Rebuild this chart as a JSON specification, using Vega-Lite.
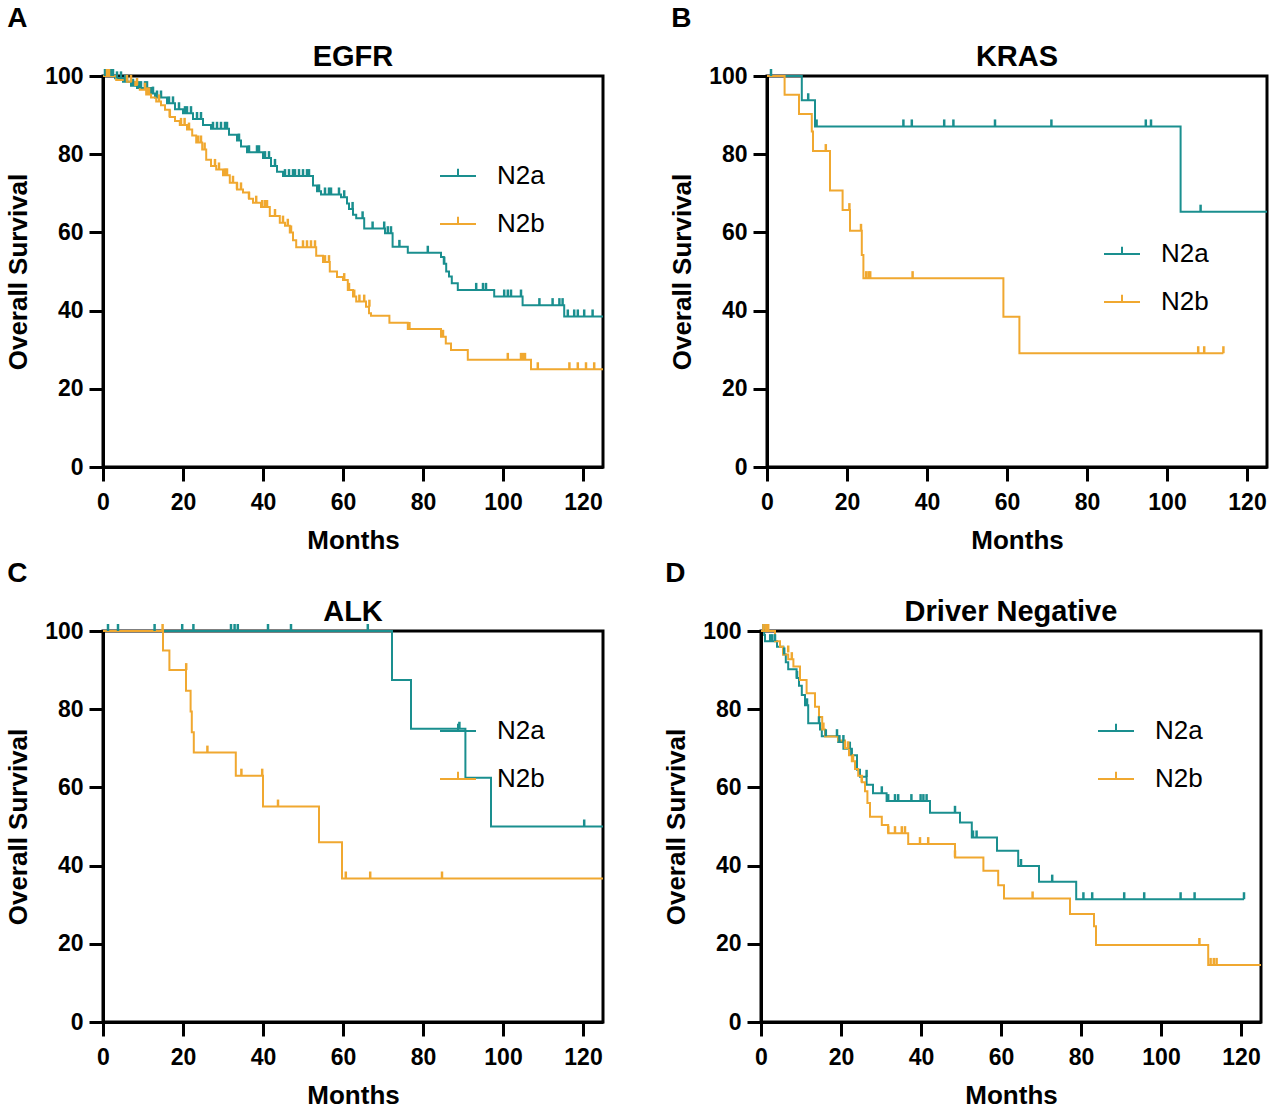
{
"$schema": "https://vega.github.io/schema/vega-lite/v6.json",
"padding": {"left": 4, "top": 4, "right": 0, "bottom": 0},
"background": "white",
"datasets": {
"A_l": [
{"g":"N2a","m":0,"s":100},{"g":"N2a","m":3,"s":99.4},{"g":"N2a","m":5,"s":98.5},{"g":"N2a","m":7,"s":97.5},{"g":"N2a","m":8.5,"s":96.9},{"g":"N2a","m":12,"s":95.5},{"g":"N2a","m":13,"s":94.5},{"g":"N2a","m":16,"s":93},{"g":"N2a","m":18,"s":91.5},{"g":"N2a","m":20,"s":90.5},{"g":"N2a","m":22.5,"s":89},{"g":"N2a","m":25,"s":87.5},{"g":"N2a","m":27,"s":86.5},{"g":"N2a","m":31.5,"s":85},{"g":"N2a","m":33.5,"s":83.5},{"g":"N2a","m":34.5,"s":82},{"g":"N2a","m":36,"s":80.5},{"g":"N2a","m":40,"s":79},{"g":"N2a","m":42,"s":77},{"g":"N2a","m":43.5,"s":75.5},{"g":"N2a","m":45,"s":74.4},{"g":"N2a","m":52.5,"s":72},{"g":"N2a","m":53.5,"s":70.5},{"g":"N2a","m":54.5,"s":69.7},{"g":"N2a","m":59.5,"s":69},{"g":"N2a","m":61,"s":67.4},{"g":"N2a","m":61.5,"s":66},{"g":"N2a","m":62.5,"s":64.5},{"g":"N2a","m":63.3,"s":63.6},{"g":"N2a","m":65.3,"s":61},{"g":"N2a","m":70.5,"s":59.8},{"g":"N2a","m":72.4,"s":56.3},{"g":"N2a","m":76.2,"s":54.8},{"g":"N2a","m":84.5,"s":53.7},{"g":"N2a","m":85.2,"s":52},{"g":"N2a","m":85.8,"s":50},{"g":"N2a","m":86.5,"s":48.7},{"g":"N2a","m":87.2,"s":47},{"g":"N2a","m":88.7,"s":45.3},{"g":"N2a","m":97.8,"s":43.6},{"g":"N2a","m":104.9,"s":41.4},{"g":"N2a","m":115.3,"s":38.5},{"g":"N2a","m":125,"s":38.5},
{"g":"N2b","m":0,"s":100},{"g":"N2b","m":3.3,"s":99},{"g":"N2b","m":6,"s":98.5},{"g":"N2b","m":8,"s":97.7},{"g":"N2b","m":9.2,"s":96.5},{"g":"N2b","m":10.8,"s":95.3},{"g":"N2b","m":12,"s":94.5},{"g":"N2b","m":13.3,"s":93.5},{"g":"N2b","m":14.5,"s":92.5},{"g":"N2b","m":15.5,"s":91.4},{"g":"N2b","m":16.7,"s":89.5},{"g":"N2b","m":18,"s":88.5},{"g":"N2b","m":19.2,"s":87.5},{"g":"N2b","m":21,"s":86.3},{"g":"N2b","m":22.3,"s":84.8},{"g":"N2b","m":23.3,"s":83},{"g":"N2b","m":24.8,"s":81.2},{"g":"N2b","m":25.8,"s":78.6},{"g":"N2b","m":27,"s":77},{"g":"N2b","m":28.3,"s":76.1},{"g":"N2b","m":30,"s":74.6},{"g":"N2b","m":31.7,"s":72.7},{"g":"N2b","m":33.5,"s":71},{"g":"N2b","m":35,"s":70.2},{"g":"N2b","m":36.5,"s":68.6},{"g":"N2b","m":37.5,"s":67.6},{"g":"N2b","m":39.5,"s":66.5},{"g":"N2b","m":41.7,"s":64.2},{"g":"N2b","m":44.2,"s":62.5},{"g":"N2b","m":45.5,"s":61.7},{"g":"N2b","m":46.7,"s":60},{"g":"N2b","m":47.5,"s":58},{"g":"N2b","m":48.3,"s":56.2},{"g":"N2b","m":53.3,"s":54},{"g":"N2b","m":55,"s":52.4},{"g":"N2b","m":56.7,"s":50},{"g":"N2b","m":58.5,"s":48.6},{"g":"N2b","m":60,"s":47.8},{"g":"N2b","m":61.2,"s":45.3},{"g":"N2b","m":62.5,"s":43.6},{"g":"N2b","m":63.3,"s":42.3},{"g":"N2b","m":65.75,"s":41},{"g":"N2b","m":66.5,"s":39.3},{"g":"N2b","m":67,"s":38.7},{"g":"N2b","m":71.6,"s":36.9},{"g":"N2b","m":76.2,"s":35.3},{"g":"N2b","m":84.5,"s":33.3},{"g":"N2b","m":85.7,"s":31.6},{"g":"N2b","m":87,"s":29.9},{"g":"N2b","m":91.2,"s":27.4},{"g":"N2b","m":107,"s":25},{"g":"N2b","m":125,"s":25}
],
"A_c": [
{"g":"N2a","m":0.5,"s":100},{"g":"N2a","m":1,"s":100},{"g":"N2a","m":1.5,"s":100},{"g":"N2a","m":2,"s":100},{"g":"N2a","m":2.5,"s":100},{"g":"N2a","m":3.5,"s":99.4},{"g":"N2a","m":4.5,"s":99.4},{"g":"N2a","m":5.5,"s":98.5},{"g":"N2a","m":6,"s":98.5},{"g":"N2a","m":7.5,"s":97.5},{"g":"N2a","m":9,"s":96.9},{"g":"N2a","m":9.5,"s":96.9},{"g":"N2a","m":10.5,"s":96.9},{"g":"N2a","m":11,"s":96.9},{"g":"N2a","m":12.5,"s":95.5},{"g":"N2a","m":13.5,"s":94.5},{"g":"N2a","m":14.5,"s":94.5},{"g":"N2a","m":16.5,"s":93},{"g":"N2a","m":17.5,"s":93},{"g":"N2a","m":19,"s":91.5},{"g":"N2a","m":20.5,"s":90.5},{"g":"N2a","m":21,"s":90.5},{"g":"N2a","m":22,"s":90.5},{"g":"N2a","m":23.5,"s":89},{"g":"N2a","m":24.5,"s":89},{"g":"N2a","m":27.5,"s":86.5},{"g":"N2a","m":28.5,"s":86.5},{"g":"N2a","m":29.5,"s":86.5},{"g":"N2a","m":30.5,"s":86.5},{"g":"N2a","m":31,"s":86.5},{"g":"N2a","m":34,"s":83.5},{"g":"N2a","m":36.5,"s":80.5},{"g":"N2a","m":38.5,"s":80.5},{"g":"N2a","m":39,"s":80.5},{"g":"N2a","m":40.5,"s":79},{"g":"N2a","m":41.5,"s":79},{"g":"N2a","m":43,"s":77},{"g":"N2a","m":45.5,"s":74.4},{"g":"N2a","m":46.5,"s":74.4},{"g":"N2a","m":47.5,"s":74.4},{"g":"N2a","m":48,"s":74.4},{"g":"N2a","m":49,"s":74.4},{"g":"N2a","m":50,"s":74.4},{"g":"N2a","m":51,"s":74.4},{"g":"N2a","m":51.5,"s":74.4},{"g":"N2a","m":54,"s":70.5},{"g":"N2a","m":55.5,"s":69.7},{"g":"N2a","m":56.5,"s":69.7},{"g":"N2a","m":57,"s":69.7},{"g":"N2a","m":59,"s":69.7},{"g":"N2a","m":60.3,"s":69},{"g":"N2a","m":62.4,"s":66},{"g":"N2a","m":64.9,"s":63.6},{"g":"N2a","m":67.4,"s":61},{"g":"N2a","m":70.3,"s":61},{"g":"N2a","m":71.2,"s":59.8},{"g":"N2a","m":72,"s":59.8},{"g":"N2a","m":74.1,"s":56.3},{"g":"N2a","m":81.2,"s":54.8},{"g":"N2a","m":85.3,"s":52},{"g":"N2a","m":93.3,"s":45.3},{"g":"N2a","m":95,"s":45.3},{"g":"N2a","m":95.75,"s":45.3},{"g":"N2a","m":100.3,"s":43.6},{"g":"N2a","m":101.2,"s":43.6},{"g":"N2a","m":102,"s":43.6},{"g":"N2a","m":104.5,"s":43.6},{"g":"N2a","m":109.1,"s":41.4},{"g":"N2a","m":112.4,"s":41.4},{"g":"N2a","m":114.1,"s":41.4},{"g":"N2a","m":114.9,"s":41.4},{"g":"N2a","m":116.2,"s":38.5},{"g":"N2a","m":117.8,"s":38.5},{"g":"N2a","m":118.7,"s":38.5},{"g":"N2a","m":120.3,"s":38.5},{"g":"N2a","m":122.4,"s":38.5},
{"g":"N2b","m":1,"s":100},{"g":"N2b","m":1.5,"s":100},{"g":"N2b","m":6,"s":98.5},{"g":"N2b","m":7,"s":98.5},{"g":"N2b","m":8.5,"s":97.7},{"g":"N2b","m":10.5,"s":96.5},{"g":"N2b","m":11,"s":95.3},{"g":"N2b","m":11.5,"s":95.3},{"g":"N2b","m":14,"s":93.5},{"g":"N2b","m":16.7,"s":89.5},{"g":"N2b","m":19.5,"s":87.5},{"g":"N2b","m":20.4,"s":87.5},{"g":"N2b","m":21.5,"s":86.3},{"g":"N2b","m":23.8,"s":83},{"g":"N2b","m":24.5,"s":83},{"g":"N2b","m":25.4,"s":81.2},{"g":"N2b","m":28,"s":77},{"g":"N2b","m":29,"s":76.1},{"g":"N2b","m":30.5,"s":74.6},{"g":"N2b","m":31,"s":74.6},{"g":"N2b","m":32.5,"s":72.7},{"g":"N2b","m":33.5,"s":71},{"g":"N2b","m":34.5,"s":71},{"g":"N2b","m":36.5,"s":68.6},{"g":"N2b","m":38.3,"s":67.6},{"g":"N2b","m":39.8,"s":66.5},{"g":"N2b","m":40.5,"s":66.5},{"g":"N2b","m":41,"s":66.5},{"g":"N2b","m":43,"s":64.2},{"g":"N2b","m":45,"s":62.5},{"g":"N2b","m":46.2,"s":61.7},{"g":"N2b","m":47,"s":60},{"g":"N2b","m":50,"s":56.2},{"g":"N2b","m":51,"s":56.2},{"g":"N2b","m":52,"s":56.2},{"g":"N2b","m":53,"s":56.2},{"g":"N2b","m":55.5,"s":52.4},{"g":"N2b","m":56.5,"s":52.4},{"g":"N2b","m":60.3,"s":47.8},{"g":"N2b","m":61.5,"s":45.3},{"g":"N2b","m":62.8,"s":43.6},{"g":"N2b","m":64.1,"s":42.3},{"g":"N2b","m":65.3,"s":42.3},{"g":"N2b","m":66.6,"s":41},{"g":"N2b","m":76.6,"s":35.3},{"g":"N2b","m":85,"s":33.3},{"g":"N2b","m":101.2,"s":27.4},{"g":"N2b","m":104.5,"s":27.4},{"g":"N2b","m":105,"s":27.4},{"g":"N2b","m":105.5,"s":27.4},{"g":"N2b","m":108.7,"s":25},{"g":"N2b","m":116.6,"s":25},{"g":"N2b","m":118.7,"s":25},{"g":"N2b","m":120.75,"s":25},{"g":"N2b","m":122.8,"s":25}
],
"B_l": [
{"g":"N2a","m":0,"s":100},{"g":"N2a","m":8.7,"s":93.8},{"g":"N2a","m":12,"s":87.1},{"g":"N2a","m":103.4,"s":65.3},{"g":"N2a","m":125,"s":65.3},
{"g":"N2b","m":0,"s":100},{"g":"N2b","m":4.4,"s":95.2},{"g":"N2b","m":8,"s":90.3},{"g":"N2b","m":11.2,"s":85.8},{"g":"N2b","m":11.5,"s":80.8},{"g":"N2b","m":15.75,"s":70.7},{"g":"N2b","m":18.9,"s":65.7},{"g":"N2b","m":20.75,"s":60.4},{"g":"N2b","m":23.7,"s":54.2},{"g":"N2b","m":24.1,"s":48.3},{"g":"N2b","m":59.1,"s":38.4},{"g":"N2b","m":63.1,"s":29.1},{"g":"N2b","m":114.1,"s":29.1}
],
"B_c": [
{"g":"N2a","m":1,"s":100},{"g":"N2a","m":10.3,"s":93.8},{"g":"N2a","m":12.4,"s":87.1},{"g":"N2a","m":34.1,"s":87.1},{"g":"N2a","m":36.2,"s":87.1},{"g":"N2a","m":44.3,"s":87.1},{"g":"N2a","m":46.6,"s":87.1},{"g":"N2a","m":57,"s":87.1},{"g":"N2a","m":71.1,"s":87.1},{"g":"N2a","m":94.7,"s":87.1},{"g":"N2a","m":96,"s":87.1},{"g":"N2a","m":108.4,"s":65.3},
{"g":"N2b","m":14.7,"s":80.8},{"g":"N2b","m":20.6,"s":65.7},{"g":"N2b","m":23.5,"s":60.4},{"g":"N2b","m":24.8,"s":48.3},{"g":"N2b","m":25.4,"s":48.3},{"g":"N2b","m":25.8,"s":48.3},{"g":"N2b","m":36.4,"s":48.3},{"g":"N2b","m":107.8,"s":29.1},{"g":"N2b","m":109.3,"s":29.1},{"g":"N2b","m":114.1,"s":29.1}
],
"C_l": [
{"g":"N2a","m":0,"s":100},{"g":"N2a","m":72.25,"s":87.5},{"g":"N2a","m":77,"s":75},{"g":"N2a","m":90.6,"s":62.5},{"g":"N2a","m":97,"s":50},{"g":"N2a","m":125,"s":50},
{"g":"N2b","m":0,"s":100},{"g":"N2b","m":15,"s":95},{"g":"N2b","m":16.6,"s":90},{"g":"N2b","m":20.75,"s":84.7},{"g":"N2b","m":21.9,"s":79.4},{"g":"N2b","m":22.2,"s":74.1},{"g":"N2b","m":22.7,"s":68.9},{"g":"N2b","m":33.2,"s":63},{"g":"N2b","m":40,"s":55.1},{"g":"N2b","m":54,"s":46},{"g":"N2b","m":59.75,"s":36.7},{"g":"N2b","m":125,"s":36.7}
],
"C_c": [
{"g":"N2a","m":1.25,"s":100},{"g":"N2a","m":3.75,"s":100},{"g":"N2a","m":12.9,"s":100},{"g":"N2a","m":19.8,"s":100},{"g":"N2a","m":22.6,"s":100},{"g":"N2a","m":32,"s":100},{"g":"N2a","m":32.9,"s":100},{"g":"N2a","m":33.7,"s":100},{"g":"N2a","m":41.25,"s":100},{"g":"N2a","m":47,"s":100},{"g":"N2a","m":66.2,"s":100},{"g":"N2a","m":89.1,"s":75},{"g":"N2a","m":120.3,"s":50},
{"g":"N2b","m":14.9,"s":100},{"g":"N2b","m":20.8,"s":90},{"g":"N2b","m":26.1,"s":68.9},{"g":"N2b","m":34.6,"s":63},{"g":"N2b","m":39.8,"s":63},{"g":"N2b","m":43.75,"s":55.1},{"g":"N2b","m":60.7,"s":36.7},{"g":"N2b","m":66.8,"s":36.7},{"g":"N2b","m":84.75,"s":36.7}
],
"D_l": [
{"g":"N2a","m":0,"s":100},{"g":"N2a","m":0.8,"s":99},{"g":"N2a","m":1,"s":97.4},{"g":"N2a","m":4,"s":96},{"g":"N2a","m":5.6,"s":94},{"g":"N2a","m":6.2,"s":92},{"g":"N2a","m":6.8,"s":90.2},{"g":"N2a","m":8.9,"s":88},{"g":"N2a","m":9.5,"s":86},{"g":"N2a","m":10.2,"s":83.6},{"g":"N2a","m":11,"s":81},{"g":"N2a","m":11.8,"s":76.4},{"g":"N2a","m":14.75,"s":74.8},{"g":"N2a","m":15.2,"s":73.1},{"g":"N2a","m":19.3,"s":71.6},{"g":"N2a","m":20.6,"s":69.9},{"g":"N2a","m":22.7,"s":68.2},{"g":"N2a","m":24,"s":64.5},{"g":"N2a","m":24.75,"s":62.7},{"g":"N2a","m":26.4,"s":60.7},{"g":"N2a","m":28,"s":58.5},{"g":"N2a","m":31.4,"s":56.5},{"g":"N2a","m":42.25,"s":53.5},{"g":"N2a","m":49.75,"s":51},{"g":"N2a","m":52.7,"s":47.2},{"g":"N2a","m":59,"s":43.8},{"g":"N2a","m":64.3,"s":39.9},{"g":"N2a","m":69.5,"s":35.9},{"g":"N2a","m":78.8,"s":31.4},{"g":"N2a","m":120.75,"s":31.4},
{"g":"N2b","m":0,"s":100},{"g":"N2b","m":3.5,"s":97.4},{"g":"N2b","m":4.75,"s":96},{"g":"N2b","m":5.5,"s":94},{"g":"N2b","m":6.8,"s":92.8},{"g":"N2b","m":8.1,"s":90.9},{"g":"N2b","m":9.75,"s":87.5},{"g":"N2b","m":11.4,"s":84.1},{"g":"N2b","m":13.5,"s":80.6},{"g":"N2b","m":14.5,"s":78},{"g":"N2b","m":15.3,"s":74.8},{"g":"N2b","m":16,"s":73},{"g":"N2b","m":19.3,"s":72},{"g":"N2b","m":21,"s":70},{"g":"N2b","m":22,"s":68.2},{"g":"N2b","m":22.7,"s":66.7},{"g":"N2b","m":23.5,"s":64.7},{"g":"N2b","m":24.3,"s":63},{"g":"N2b","m":25.2,"s":61.3},{"g":"N2b","m":26,"s":59},{"g":"N2b","m":26.6,"s":56},{"g":"N2b","m":27.25,"s":52.5},{"g":"N2b","m":30.2,"s":50.4},{"g":"N2b","m":31.8,"s":48.3},{"g":"N2b","m":36.8,"s":45.5},{"g":"N2b","m":48.5,"s":42.1},{"g":"N2b","m":55.6,"s":38.7},{"g":"N2b","m":59.3,"s":35},{"g":"N2b","m":60.75,"s":31.6},{"g":"N2b","m":77.25,"s":27.6},{"g":"N2b","m":83.25,"s":24.5},{"g":"N2b","m":83.75,"s":19.7},{"g":"N2b","m":111.8,"s":14.6},{"g":"N2b","m":125,"s":14.6}
],
"D_c": [
{"g":"N2a","m":0.6,"s":100},{"g":"N2a","m":2.3,"s":97.4},{"g":"N2a","m":2.8,"s":97.4},{"g":"N2a","m":3.5,"s":97.4},{"g":"N2a","m":5.8,"s":94},{"g":"N2a","m":9,"s":88},{"g":"N2a","m":11.5,"s":81},{"g":"N2a","m":14.5,"s":76.4},{"g":"N2a","m":16.2,"s":73.1},{"g":"N2a","m":19,"s":73.1},{"g":"N2a","m":19.6,"s":71.6},{"g":"N2a","m":20.6,"s":71.6},{"g":"N2a","m":22.2,"s":69.9},{"g":"N2a","m":22.6,"s":68.2},{"g":"N2a","m":26.4,"s":62.7},{"g":"N2a","m":30.2,"s":58.5},{"g":"N2a","m":31.8,"s":56.5},{"g":"N2a","m":33.5,"s":56.5},{"g":"N2a","m":34.3,"s":56.5},{"g":"N2a","m":37.6,"s":56.5},{"g":"N2a","m":39.9,"s":56.5},{"g":"N2a","m":40.6,"s":56.5},{"g":"N2a","m":41.4,"s":56.5},{"g":"N2a","m":48.5,"s":53.5},{"g":"N2a","m":53,"s":47.2},{"g":"N2a","m":53.9,"s":47.2},{"g":"N2a","m":65,"s":39.9},{"g":"N2a","m":72.8,"s":35.9},{"g":"N2a","m":80.6,"s":31.4},{"g":"N2a","m":82.8,"s":31.4},{"g":"N2a","m":90.8,"s":31.4},{"g":"N2a","m":95.8,"s":31.4},{"g":"N2a","m":104.9,"s":31.4},{"g":"N2a","m":108.4,"s":31.4},{"g":"N2a","m":120.75,"s":31.4},
{"g":"N2b","m":0.6,"s":100},{"g":"N2b","m":1.2,"s":100},{"g":"N2b","m":1.8,"s":100},{"g":"N2b","m":6.8,"s":94.5},{"g":"N2b","m":7.7,"s":92.8},{"g":"N2b","m":15.6,"s":74.8},{"g":"N2b","m":21,"s":70},{"g":"N2b","m":21.8,"s":70},{"g":"N2b","m":23,"s":66.7},{"g":"N2b","m":25.2,"s":61.3},{"g":"N2b","m":31.8,"s":48.3},{"g":"N2b","m":33.5,"s":48.3},{"g":"N2b","m":35.2,"s":48.3},{"g":"N2b","m":36,"s":48.3},{"g":"N2b","m":39.75,"s":45.5},{"g":"N2b","m":41.8,"s":45.5},{"g":"N2b","m":48.5,"s":42.1},{"g":"N2b","m":67.9,"s":31.6},{"g":"N2b","m":109.6,"s":19.7},{"g":"N2b","m":112.4,"s":14.6},{"g":"N2b","m":113.2,"s":14.6},{"g":"N2b","m":113.9,"s":14.6}
]
},
"resolve": {"scale": {"color": "independent"}, "legend": {"color": "independent"}},
"vconcat": [
{"resolve": {"scale": {"color": "independent"}, "legend": {"color": "independent"}},
 "hconcat": [
{"title": {"text": "A", "anchor": "start", "fontSize": 28, "offset": 9, "dx": 3},
 "resolve": {"scale": {"color": "independent"}, "legend": {"color": "independent"}},
 "vconcat": [{
  "width": 500, "height": 391,
  "title": {"text": "EGFR", "fontSize": 29, "offset": -7},
  "encoding": {
   "x": {"field": "m", "type": "quantitative", "scale": {"domain": [0, 125], "nice": false, "zero": false}, "axis": {"values": [0, 20, 40, 60, 80, 100, 120], "title": "Months"}},
   "y": {"field": "s", "type": "quantitative", "scale": {"domain": [0, 100], "nice": false}, "axis": {"values": [0, 20, 40, 60, 80, 100], "title": "Overall Survival"}}
  },
  "layer": [
   {"data": {"name": "A_l"}, "mark": {"type": "line", "interpolate": "step-after", "strokeWidth": 2},
    "encoding": {"color": {"field": "g", "type": "nominal", "scale": {"domain": ["N2a", "N2b"], "range": ["#1A8F8F", "#F0A830"]},
     "legend": {"orient": "none", "legendX": 336, "legendY": 81, "title": null, "symbolType": "M-1,0L1,0M0,0L0,-0.4", "symbolSize": 1296, "symbolStrokeWidth": 2, "labelFontSize": 26, "labelFont": "Liberation Sans", "labelColor": "black", "labelOffset": 20, "rowPadding": 16, "padding": 0}}}},
   {"data": {"name": "A_c"}, "mark": {"type": "tick", "orient": "vertical", "size": 7, "thickness": 2.5, "yOffset": -3.5, "opacity": 1},
    "encoding": {"color": {"field": "g", "type": "nominal", "legend": null}}},
   {"data": {"values": [{}]}, "mark": {"type": "text", "text": "P", "fontSize": 27, "fontWeight": "bold", "align": "left", "baseline": "alphabetic", "color": "black"},
    "encoding": {"x": {"datum": 20.25}, "y": {"datum": 16.4}}},
   {"data": {"values": [{}]}, "mark": {"type": "text", "text": "= 0.004", "fontSize": 27, "align": "left", "baseline": "alphabetic", "color": "black"},
    "encoding": {"x": {"datum": 25.9}, "y": {"datum": 16.4}}}
  ]
 }]},
{"title": {"text": "B", "anchor": "start", "fontSize": 28, "offset": 9, "dx": 3},
 "resolve": {"scale": {"color": "independent"}, "legend": {"color": "independent"}},
 "vconcat": [{
  "width": 500, "height": 391,
  "title": {"text": "KRAS", "fontSize": 29, "offset": -7},
  "encoding": {
   "x": {"field": "m", "type": "quantitative", "scale": {"domain": [0, 125], "nice": false, "zero": false}, "axis": {"values": [0, 20, 40, 60, 80, 100, 120], "title": "Months"}},
   "y": {"field": "s", "type": "quantitative", "scale": {"domain": [0, 100], "nice": false}, "axis": {"values": [0, 20, 40, 60, 80, 100], "title": "Overall Survival"}}
  },
  "layer": [
   {"data": {"name": "B_l"}, "mark": {"type": "line", "interpolate": "step-after", "strokeWidth": 2},
    "encoding": {"color": {"field": "g", "type": "nominal", "scale": {"domain": ["N2a", "N2b"], "range": ["#1A8F8F", "#F0A830"]},
     "legend": {"orient": "none", "legendX": 336, "legendY": 159, "title": null, "symbolType": "M-1,0L1,0M0,0L0,-0.4", "symbolSize": 1296, "symbolStrokeWidth": 2, "labelFontSize": 26, "labelFont": "Liberation Sans", "labelColor": "black", "labelOffset": 20, "rowPadding": 16, "padding": 0}}}},
   {"data": {"name": "B_c"}, "mark": {"type": "tick", "orient": "vertical", "size": 7, "thickness": 2.5, "yOffset": -3.5, "opacity": 1},
    "encoding": {"color": {"field": "g", "type": "nominal", "legend": null}}},
   {"data": {"values": [{}]}, "mark": {"type": "text", "text": "P", "fontSize": 27, "fontWeight": "bold", "align": "left", "baseline": "alphabetic", "color": "black"},
    "encoding": {"x": {"datum": 20.25}, "y": {"datum": 16.4}}},
   {"data": {"values": [{}]}, "mark": {"type": "text", "text": "= 0.022", "fontSize": 27, "align": "left", "baseline": "alphabetic", "color": "black"},
    "encoding": {"x": {"datum": 25.9}, "y": {"datum": 16.4}}}
  ]
 }]}
], "spacing": 59},
{"resolve": {"scale": {"color": "independent"}, "legend": {"color": "independent"}},
 "hconcat": [
{"title": {"text": "C", "anchor": "start", "fontSize": 28, "offset": 9, "dx": 3},
 "resolve": {"scale": {"color": "independent"}, "legend": {"color": "independent"}},
 "vconcat": [{
  "width": 500, "height": 391,
  "title": {"text": "ALK", "fontSize": 29, "offset": -7},
  "encoding": {
   "x": {"field": "m", "type": "quantitative", "scale": {"domain": [0, 125], "nice": false, "zero": false}, "axis": {"values": [0, 20, 40, 60, 80, 100, 120], "title": "Months"}},
   "y": {"field": "s", "type": "quantitative", "scale": {"domain": [0, 100], "nice": false}, "axis": {"values": [0, 20, 40, 60, 80, 100], "title": "Overall Survival"}}
  },
  "layer": [
   {"data": {"name": "C_l"}, "mark": {"type": "line", "interpolate": "step-after", "strokeWidth": 2},
    "encoding": {"color": {"field": "g", "type": "nominal", "scale": {"domain": ["N2a", "N2b"], "range": ["#1A8F8F", "#F0A830"]},
     "legend": {"orient": "none", "legendX": 336, "legendY": 81, "title": null, "symbolType": "M-1,0L1,0M0,0L0,-0.4", "symbolSize": 1296, "symbolStrokeWidth": 2, "labelFontSize": 26, "labelFont": "Liberation Sans", "labelColor": "black", "labelOffset": 20, "rowPadding": 16, "padding": 0}}}},
   {"data": {"name": "C_c"}, "mark": {"type": "tick", "orient": "vertical", "size": 7, "thickness": 2.5, "yOffset": -3.5, "opacity": 1},
    "encoding": {"color": {"field": "g", "type": "nominal", "legend": null}}},
   {"data": {"values": [{}]}, "mark": {"type": "text", "text": "P", "fontSize": 27, "fontWeight": "bold", "align": "left", "baseline": "alphabetic", "color": "black"},
    "encoding": {"x": {"datum": 20.25}, "y": {"datum": 16.4}}},
   {"data": {"values": [{}]}, "mark": {"type": "text", "text": "= 0.009", "fontSize": 27, "align": "left", "baseline": "alphabetic", "color": "black"},
    "encoding": {"x": {"datum": 25.9}, "y": {"datum": 16.4}}}
  ]
 }]},
{"title": {"text": "D", "anchor": "start", "fontSize": 28, "offset": 9, "dx": 3},
 "resolve": {"scale": {"color": "independent"}, "legend": {"color": "independent"}},
 "vconcat": [{
  "width": 500, "height": 391,
  "title": {"text": "Driver Negative", "fontSize": 29, "offset": -7},
  "encoding": {
   "x": {"field": "m", "type": "quantitative", "scale": {"domain": [0, 125], "nice": false, "zero": false}, "axis": {"values": [0, 20, 40, 60, 80, 100, 120], "title": "Months"}},
   "y": {"field": "s", "type": "quantitative", "scale": {"domain": [0, 100], "nice": false}, "axis": {"values": [0, 20, 40, 60, 80, 100], "title": "Overall Survival"}}
  },
  "layer": [
   {"data": {"name": "D_l"}, "mark": {"type": "line", "interpolate": "step-after", "strokeWidth": 2},
    "encoding": {"color": {"field": "g", "type": "nominal", "scale": {"domain": ["N2a", "N2b"], "range": ["#1A8F8F", "#F0A830"]},
     "legend": {"orient": "none", "legendX": 336, "legendY": 81, "title": null, "symbolType": "M-1,0L1,0M0,0L0,-0.4", "symbolSize": 1296, "symbolStrokeWidth": 2, "labelFontSize": 26, "labelFont": "Liberation Sans", "labelColor": "black", "labelOffset": 20, "rowPadding": 16, "padding": 0}}}},
   {"data": {"name": "D_c"}, "mark": {"type": "tick", "orient": "vertical", "size": 7, "thickness": 2.5, "yOffset": -3.5, "opacity": 1},
    "encoding": {"color": {"field": "g", "type": "nominal", "legend": null}}},
   {"data": {"values": [{}]}, "mark": {"type": "text", "text": "P", "fontSize": 27, "fontWeight": "bold", "align": "left", "baseline": "alphabetic", "color": "black"},
    "encoding": {"x": {"datum": 20.25}, "y": {"datum": 16.4}}},
   {"data": {"values": [{}]}, "mark": {"type": "text", "text": "= 0.469", "fontSize": 27, "align": "left", "baseline": "alphabetic", "color": "black"},
    "encoding": {"x": {"datum": 25.9}, "y": {"datum": 16.4}}}
  ]
 }]}
], "spacing": 53}
],
"spacing": 4,
"config": {
 "font": "Liberation Sans",
 "view": {"stroke": "black", "strokeWidth": 3},
 "title": {"font": "Liberation Sans", "fontWeight": "bold", "color": "black"},
 "text": {"font": "Liberation Sans"},
 "axis": {"grid": false, "domainColor": "black", "domainWidth": 3, "tickColor": "black", "tickWidth": 3, "tickSize": 14,
  "labelFont": "Liberation Sans", "labelFontSize": 23, "labelFontWeight": "bold", "labelColor": "black", "labelFlush": false, "labelOverlap": false,
  "titleFont": "Liberation Sans", "titleFontSize": 26, "titleFontWeight": "bold", "titleColor": "black"},
 "axisX": {"labelPadding": 10, "titlePadding": 13},
 "axisY": {"labelPadding": 6, "titlePadding": 13}
}
}
